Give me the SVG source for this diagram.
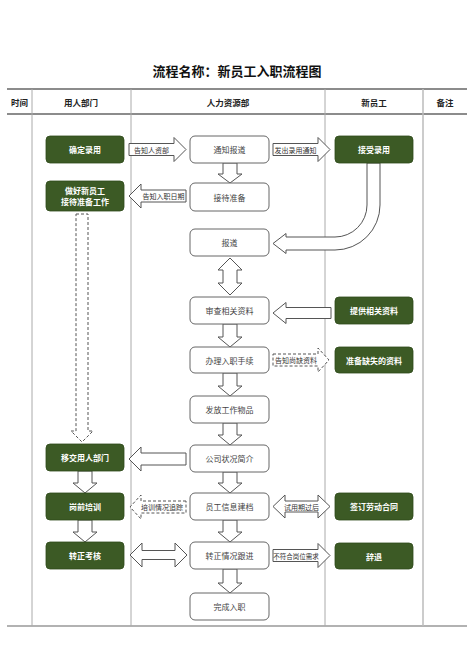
<svg xmlns="http://www.w3.org/2000/svg" width="474" height="670" viewBox="0 0 474 670">
<style>
.bg{fill:#ffffff}
.title{font-family:"Noto Sans CJK SC","Liberation Sans",sans-serif;font-size:13px;font-weight:bold;fill:#111;text-anchor:middle}
.hdr{font-family:"Noto Sans CJK SC","Liberation Sans",sans-serif;font-size:8.5px;font-weight:bold;fill:#222;text-anchor:middle;dominant-baseline:central}
.hl{stroke:#666;stroke-width:1.5;fill:none}
.vl{stroke:#aaa;stroke-width:1;fill:none}
.g rect{fill:#3c5a25;stroke:#2e4a1a;stroke-width:0.8}
.g text{font-family:"Noto Sans CJK SC","Liberation Sans",sans-serif;font-size:8px;font-weight:bold;fill:#fff;text-anchor:middle;dominant-baseline:central}
.w rect{fill:#fff;stroke:#666;stroke-width:1}
.w text{font-family:"Noto Sans CJK SC","Liberation Sans",sans-serif;font-size:8px;fill:#444;text-anchor:middle;dominant-baseline:central}
.ar{fill:#fff;stroke:#555;stroke-width:1;stroke-linejoin:miter}
.da{fill:#fff;stroke:#555;stroke-width:1;stroke-dasharray:3,2}
.lb{font-family:"Noto Sans CJK SC","Liberation Sans",sans-serif;font-size:7px;fill:#333;text-anchor:middle;dominant-baseline:central}
</style>
<rect class="bg" x="0" y="0" width="474" height="670"/>
<text class="title" x="237" y="76">流程名称：新员工入职流程图</text>
<g id="table">
<line class="hl" x1="7" y1="89" x2="467" y2="89"/>
<line class="hl" x1="7" y1="114" x2="467" y2="114"/>
<line class="hl" x1="7" y1="626" x2="467" y2="626" style="stroke-width:1.2"/>
<line class="vl" x1="32" y1="89" x2="32" y2="626"/>
<line class="vl" x1="131" y1="89" x2="131" y2="626"/>
<line class="vl" x1="325" y1="89" x2="325" y2="626"/>
<line class="vl" x1="423" y1="89" x2="423" y2="626" style="stroke-width:1.5;stroke:#bbb"/>
<text class="hdr" x="19.5" y="102">时间</text>
<text class="hdr" x="81" y="102">用人部门</text>
<text class="hdr" x="228" y="102">人力资源部</text>
<text class="hdr" x="374" y="102">新员工</text>
<text class="hdr" x="445" y="102">备注</text>
</g>
<g id="connectors">
<polygon class="ar" points="129,143.5 174,143.5 174,137.5 186,149.5 174,161.5 174,155.5 129,155.5"/>
<text class="lb" x="151.5" y="149.5">告知人资部</text>
<polygon class="ar" points="273,143.5 318,143.5 318,137.5 330,149.5 318,161.5 318,155.5 273,155.5"/>
<text class="lb" x="295.5" y="149.5">发出录用通知</text>
<polygon class="ar" points="186,190 141,190 141,184 129,196 141,208 141,202 186,202"/>
<text class="lb" x="163.5" y="196">告知入职日期</text>
<path class="ar" d="M367,163 L380,163 L380,205 A45,45 0 0 1 335,250 L286,250 L286,253.5 L273,243.5 L286,233.5 L286,237 L335,237 A32,32 0 0 0 367,205 Z"/>
<polygon class="ar" points="223,163 237,163 237,174 242,174 230,183 218,174 223,174"/>
<polygon class="ar" points="230,258 242,270 237,270 237,283 242,283 230,295 218,283 223,283 223,270 218,270"/>
<polygon class="ar" points="223,324 237,324 237,337 242,337 230,347 218,337 223,337"/>
<polygon class="ar" points="223,373 237,373 237,386 242,386 230,396 218,386 223,386"/>
<polygon class="ar" points="223,423 237,423 237,435 242,435 230,445 218,435 223,435"/>
<polygon class="ar" points="223,472 237,472 237,483 242,483 230,493 218,483 223,483"/>
<polygon class="ar" points="223,520 237,520 237,532 242,532 230,542 218,532 223,532"/>
<polygon class="ar" points="223,569 237,569 237,583 242,583 230,593 218,583 223,583"/>
<polygon class="ar" points="331,307.5 286,307.5 286,302.5 273,313 286,323.5 286,318.5 331,318.5"/>
<polygon class="da" points="273,354 318,354 318,348 329,360 318,372 318,366 273,366"/>
<text class="lb" x="296" y="360">告知尚缺资料</text>
<polygon class="da" points="76,214 88,214 88,431 93,431 82,442 71,431 76,431"/>
<polygon class="ar" points="186,453 141,453 141,447 129,459 141,471 141,465 186,465"/>
<polygon class="ar" points="78,471 92,471 92,483 97,483 85,493 73,483 78,483"/>
<polygon class="da" points="186,501 141,501 141,495 130,507 141,519 141,513 186,513"/>
<text class="lb" x="162" y="507">培训情况追踪</text>
<polygon class="ar" points="273,506.5 285,495 285,501 318,501 318,495 330,506.5 318,518 318,512 285,512 285,518"/>
<text class="lb" x="301.5" y="506.5">试用期过后</text>
<polygon class="ar" points="78,520 92,520 92,532 97,532 85,542 73,532 78,532"/>
<polygon class="ar" points="130,555 142,543 142,550.5 175,550.5 175,543 187,555 175,567 175,559.5 142,559.5 142,567"/>
<polygon class="ar" points="273,549.5 318,549.5 318,543.5 330,555.5 318,567.5 318,561.5 273,561.5"/>
<text class="lb" x="296" y="555.5" style="font-size:6.5px">不符合岗位需求</text>
</g>
<g id="n-qdly" class="g"><rect x="46" y="136" width="78" height="27" rx="4"/><text x="85" y="149.5">确定录用</text></g>
<g id="n-zhxyg" class="g"><rect x="46" y="181" width="78" height="30" rx="4"/><text x="85" y="190.5">做好新员工</text><text x="85" y="201.5">接待准备工作</text></g>
<g id="n-yjyrbm" class="g"><rect x="46" y="444" width="78" height="27" rx="4"/><text x="85" y="457.5">移交用人部门</text></g>
<g id="n-gqpx" class="g"><rect x="46" y="493" width="78" height="27" rx="4"/><text x="85" y="506.5">岗前培训</text></g>
<g id="n-zzkh" class="g"><rect x="46" y="542" width="78" height="27" rx="4"/><text x="85" y="555.5">转正考核</text></g>
<g id="n-tzbd" class="w"><rect x="190" y="136" width="79" height="27" rx="5"/><text x="229.5" y="149.5">通知报道</text></g>
<g id="n-jdzb" class="w"><rect x="190" y="183" width="79" height="28" rx="5"/><text x="229.5" y="197">接待准备</text></g>
<g id="n-bd" class="w"><rect x="190" y="229" width="79" height="27" rx="5"/><text x="229.5" y="242.5">报道</text></g>
<g id="n-scxgzl" class="w"><rect x="190" y="297" width="79" height="27" rx="5"/><text x="229.5" y="310.5">审查相关资料</text></g>
<g id="n-blrzsx" class="w"><rect x="190" y="347" width="79" height="26" rx="5"/><text x="229.5" y="360">办理入职手续</text></g>
<g id="n-ffgzwp" class="w"><rect x="190" y="396" width="79" height="27" rx="5"/><text x="229.5" y="409.5">发放工作物品</text></g>
<g id="n-gszkjj" class="w"><rect x="190" y="445" width="79" height="27" rx="5"/><text x="229.5" y="458.5">公司状况简介</text></g>
<g id="n-ygxxjd" class="w"><rect x="190" y="493" width="79" height="27" rx="5"/><text x="229.5" y="506.5">员工信息建档</text></g>
<g id="n-zzqkgj" class="w"><rect x="190" y="542" width="79" height="27" rx="5"/><text x="229.5" y="555.5">转正情况跟进</text></g>
<g id="n-wcrz" class="w"><rect x="190" y="593" width="79" height="27" rx="5"/><text x="229.5" y="606.5">完成入职</text></g>
<g id="n-jsly" class="g"><rect x="335" y="136" width="78" height="27" rx="4"/><text x="374" y="149.5">接受录用</text></g>
<g id="n-tgxgzl" class="g"><rect x="335" y="297" width="78" height="27" rx="4"/><text x="374" y="310.5">提供相关资料</text></g>
<g id="n-zbqsdzl" class="g"><rect x="335" y="347" width="78" height="26" rx="4"/><text x="374" y="360">准备缺失的资料</text></g>
<g id="n-qdldht" class="g"><rect x="335" y="493" width="78" height="27" rx="4"/><text x="374" y="506.5">签订劳动合同</text></g>
<g id="n-ct" class="g"><rect x="335" y="543" width="78" height="26" rx="4"/><text x="374" y="556">辞退</text></g>
</svg>
